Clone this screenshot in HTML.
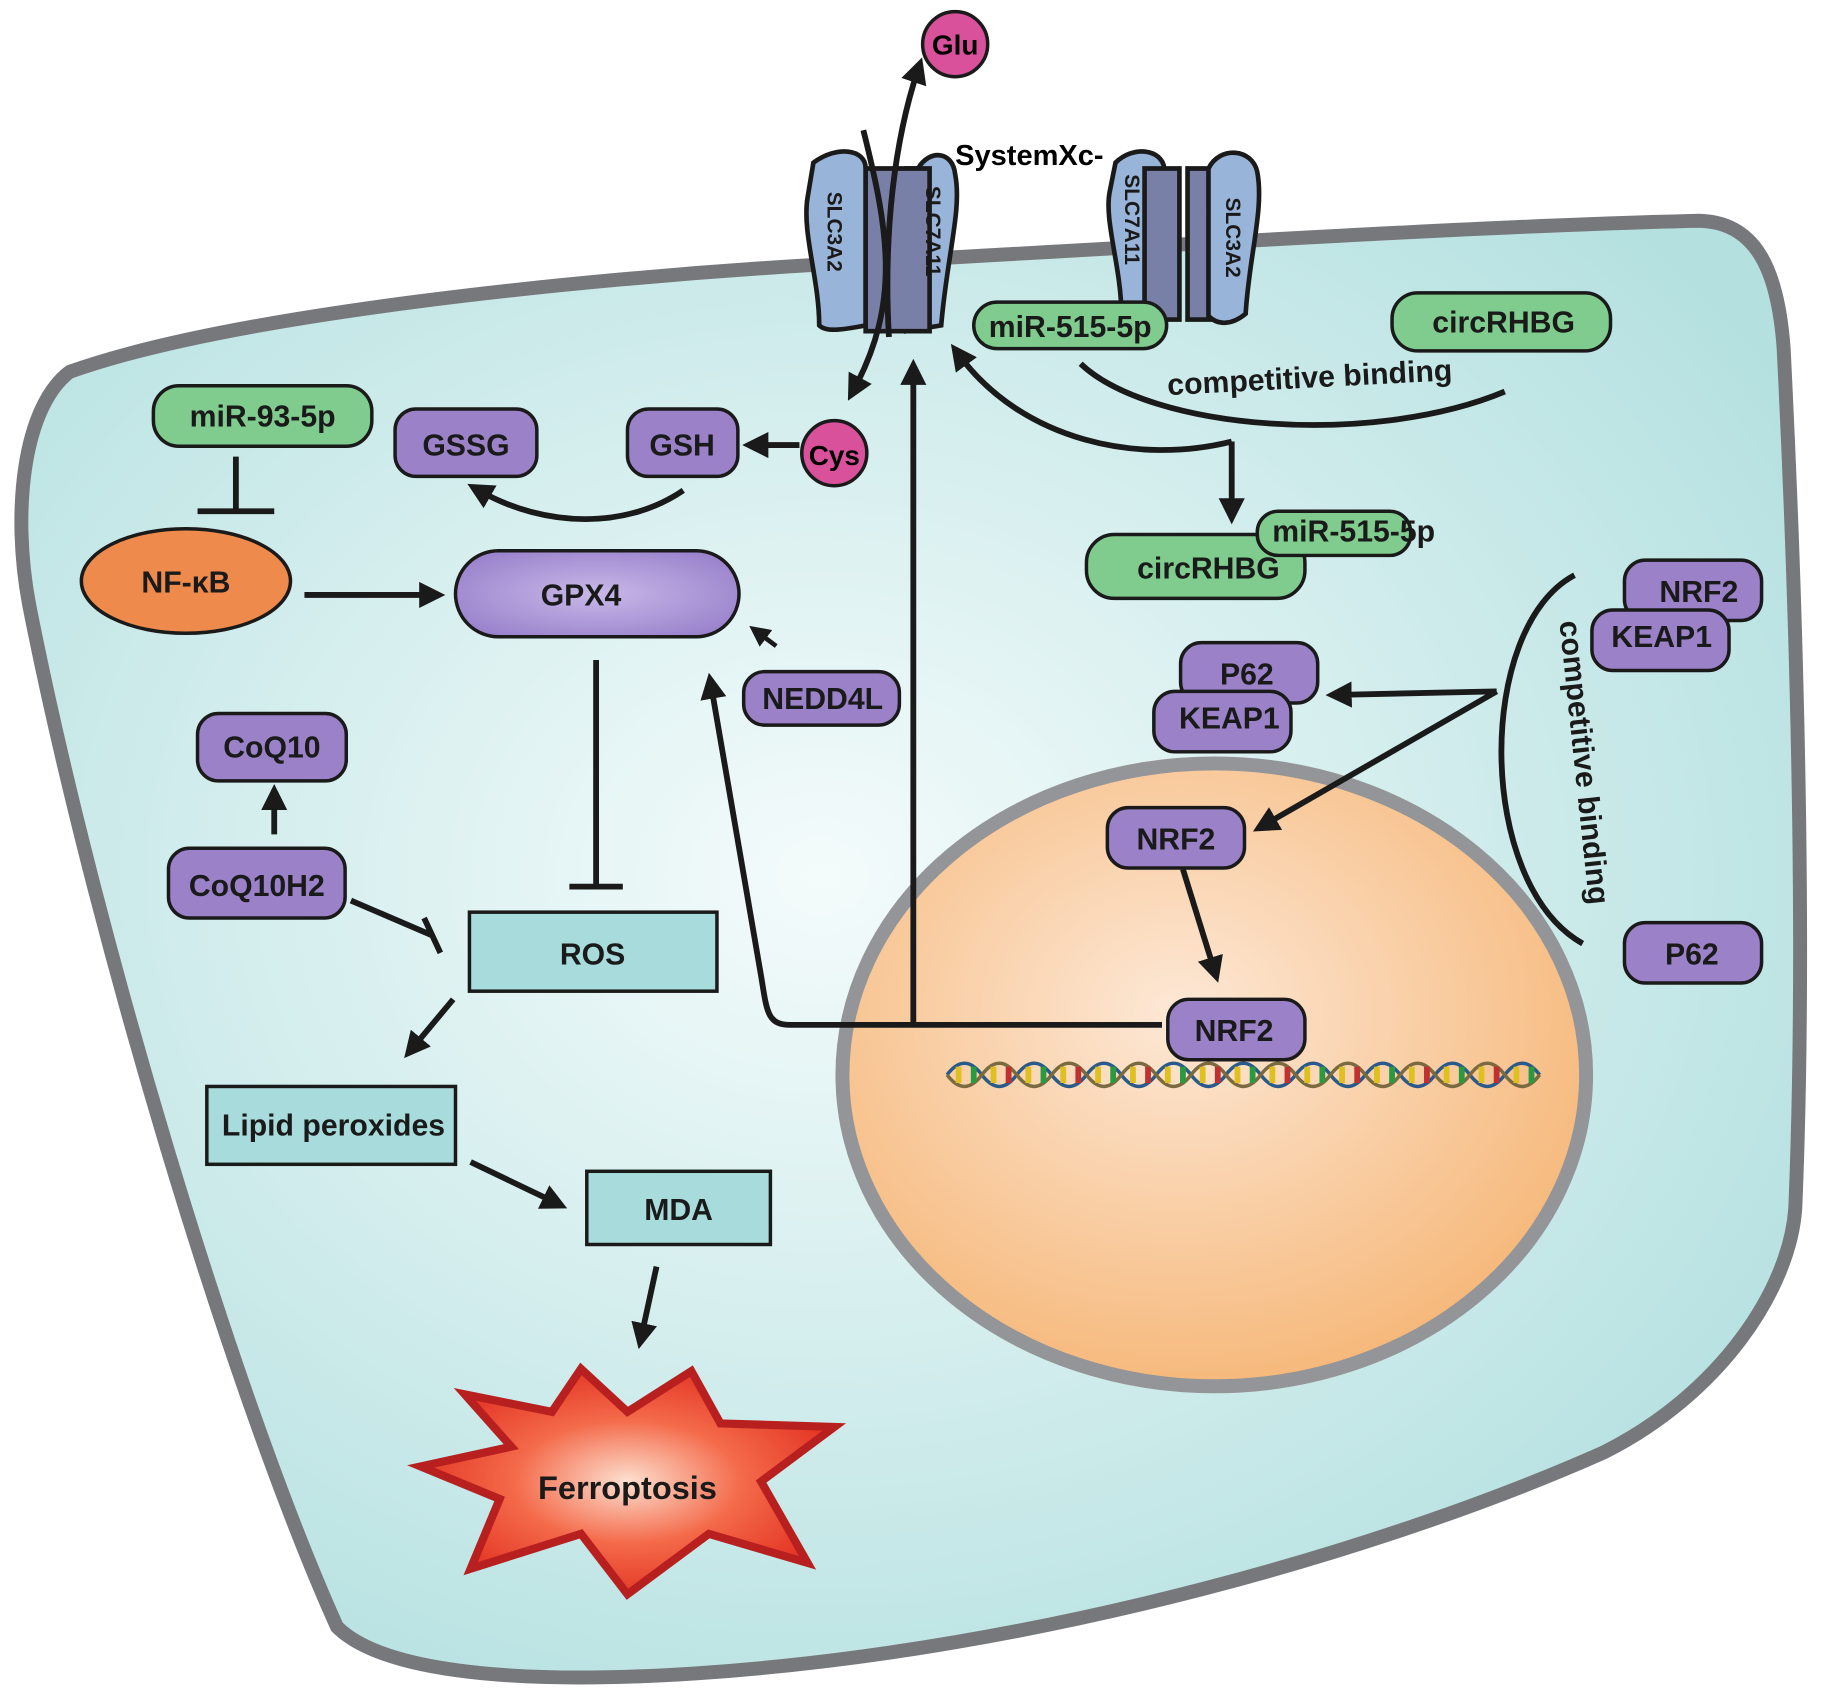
<!DOCTYPE html>
<html><head><meta charset="utf-8"><style>
html,body{margin:0;padding:0;background:#fff}
svg{display:block}
text{font-family:"Liberation Sans",sans-serif;font-weight:bold}
</style></head><body>
<svg width="1822" height="1700" viewBox="0 0 1568 1463" xmlns="http://www.w3.org/2000/svg">
<defs>
<radialGradient id="cell" cx="0.45" cy="0.45" r="0.65"><stop offset="0" stop-color="#f4fbfb"/><stop offset="1" stop-color="#b4e0e0"/></radialGradient>
<radialGradient id="nuc" cx="0.45" cy="0.4" r="0.6"><stop offset="0" stop-color="#fde8d6"/><stop offset="1" stop-color="#f6b97c"/></radialGradient>
<radialGradient id="gpx" cx="0.5" cy="0.5" r="0.6"><stop offset="0" stop-color="#c8b8e8"/><stop offset="1" stop-color="#9a82cc"/></radialGradient>
<radialGradient id="boom" cx="0.5" cy="0.5" r="0.55"><stop offset="0" stop-color="#fde0d0"/><stop offset="0.5" stop-color="#f46a4a"/><stop offset="1" stop-color="#e23020"/></radialGradient>
<marker id="ar" viewBox="0 0 10 10" refX="5" refY="5" markerWidth="4.5" markerHeight="4.5" orient="auto"><path d="M0,0 L10,5 L0,10 z" fill="#1a1a1a"/></marker>
</defs>
<path d="M60,320 C200,270 500,240 700,228 C950,215 1250,195 1460,190 C1510,190 1530,230 1535,300 C1545,500 1555,800 1545,1040 C1540,1110 1480,1200 1380,1250 C1200,1330 900,1420 600,1440 C450,1450 330,1440 290,1400 C200,1200 80,800 25,520 C10,440 20,350 60,320 Z" fill="url(#cell)" stroke="#77787b" stroke-width="12"/>
<ellipse cx="1045" cy="925" rx="320" ry="268" fill="url(#nuc)" stroke="#939598" stroke-width="12"/>
<g stroke-width="3" fill="none">
<path d="M815,925 Q830,905 845,925 T875,925 T905,925 T935,925 T965,925 T995,925 T1025,925 T1055,925 T1085,925 T1115,925 T1145,925 T1175,925 T1205,925 T1235,925 T1265,925 T1295,925 T1325,925" stroke="#2a5a8a"/>
<path d="M815,925 Q830,945 845,925 T875,925 T905,925 T935,925 T965,925 T995,925 T1025,925 T1055,925 T1085,925 T1115,925 T1145,925 T1175,925 T1205,925 T1235,925 T1265,925 T1295,925 T1325,925" stroke="#7a6a40"/>
<path d="M825,918v14M855,918v14M885,918v14M915,918v14M945,918v14M975,918v14M1005,918v14M1035,918v14M1065,918v14M1095,918v14M1125,918v14M1155,918v14M1185,918v14M1215,918v14M1245,918v14M1275,918v14M1305,918v14" stroke="#e0c020" stroke-width="5"/>
<path d="M838,918v14M898,918v14M958,918v14M1018,918v14M1078,918v14M1138,918v14M1198,918v14M1258,918v14M1318,918v14" stroke="#2a9a40" stroke-width="5"/>
<path d="M868,918v14M928,918v14M988,918v14M1048,918v14M1108,918v14M1168,918v14M1228,918v14M1288,918v14" stroke="#c03030" stroke-width="5"/>
</g>
<g stroke="#1a1a1a" stroke-width="4">
<path d="M700,140 C720,125 745,128 745,145 L745,280 C720,285 710,285 705,280 C705,240 690,200 695,170 Z" fill="#98b4d8"/>
<path d="M780,145 L790,145 C800,128 820,130 822,150 C828,180 815,220 810,280 L780,285 Z" fill="#98b4d8"/>
<path d="M745,145 L800,145 L800,285 L745,285 Z" fill="#7880a8"/>
</g>
<g stroke="#1a1a1a" stroke-width="4">
<path d="M960,140 C975,125 1000,128 1002,145 L1000,272 C985,280 970,280 965,270 C965,230 950,190 955,165 Z" fill="#98b4d8"/>
<path d="M985,145 L1015,145 L1015,275 L985,275 Z" fill="#7880a8"/>
<path d="M1022,145 L1052,145 L1052,275 L1022,275 Z" fill="#7880a8"/>
<path d="M1040,145 C1050,125 1078,128 1082,148 C1088,180 1075,220 1072,270 C1060,280 1048,280 1040,272 Z" fill="#98b4d8"/>
</g>
<g font-size="18" fill="#1a1a1a">
<text transform="translate(712,165) rotate(90)">SLC3A2</text>
<text transform="translate(797,160) rotate(90)">SLC7A11</text>
<text transform="translate(968,150) rotate(90)">SLC7A11</text>
<text transform="translate(1055,170) rotate(90)">SLC3A2</text>
</g>
<path d="M743,112 C765,200 775,260 735,335" fill="none" stroke="#1a1a1a" stroke-width="5" marker-end="url(#ar)"/>
<path d="M765,290 C760,200 770,120 790,60" fill="none" stroke="#1a1a1a" stroke-width="5" marker-end="url(#ar)"/>
<circle cx="822" cy="38" r="28" fill="#d9519b" stroke="#1a1a1a" stroke-width="3"/>
<text x="822" y="47" font-size="24" text-anchor="middle">Glu</text>
<text x="822" y="142" font-size="25">SystemXc-</text>
<circle cx="718" cy="390" r="28" fill="#d9519b" stroke="#1a1a1a" stroke-width="3"/>
<text x="718" y="400" font-size="24" text-anchor="middle">Cys</text>
<g fill="none" stroke="#1a1a1a" stroke-width="5">
<path d="M688,383 L650,383" marker-end="url(#ar)"/>
<path d="M588,422 C540,455 470,455 412,422" marker-end="url(#ar)"/>
<path d="M203,393 L203,440 M170,440 L236,440"/>
<path d="M262,512 L372,512" marker-end="url(#ar)"/>
<path d="M513,568 L513,763 M490,763 L536,763"/>
<path d="M236,718 L236,686" marker-end="url(#ar)"/>
<path d="M302,775 L372,805 M365,790 L379,820"/>
<path d="M390,860 L355,902" marker-end="url(#ar)"/>
<path d="M405,1000 L478,1035" marker-end="url(#ar)"/>
<path d="M565,1090 L552,1150" marker-end="url(#ar)"/>
<path d="M1000,882 L680,882 C660,882 660,870 655,840 L612,590" marker-end="url(#ar)"/>
<path d="M786,882 L786,320" marker-end="url(#ar)"/>
<path d="M1060,380 C980,400 880,380 825,305" marker-end="url(#ar)"/>
<path d="M930,313 C990,370 1180,385 1295,337"/>
<path d="M1060,380 L1060,440" marker-end="url(#ar)"/>
<path d="M1355,495 C1270,540 1270,760 1362,812"/>
<path d="M1288,595 L1152,598" marker-end="url(#ar)"/>
<path d="M1288,595 L1088,710" marker-end="url(#ar)"/>
<path d="M1018,748 L1045,835" marker-end="url(#ar)"/>
<path d="M668,556 L652,544" marker-end="url(#ar)" stroke-width="4"/>
</g>
<g font-size="26" fill="#1a1a1a">
<text x="1005" y="340" transform="rotate(-3 1005 340)">competitive binding</text>
<text transform="translate(1342,535) rotate(84)">competitive binding</text>
</g>
<g stroke="#1a1a1a" stroke-width="3" font-size="26">
<rect x="132" y="332" width="188" height="52" rx="22" fill="#7fcc8e"/>
<rect x="340" y="352" width="122" height="58" rx="18" fill="#9b82c8"/>
<rect x="540" y="352" width="95" height="58" rx="18" fill="#9b82c8"/>
<ellipse cx="160" cy="500" rx="90" ry="45" fill="#ee8b4c"/>
<rect x="392" y="474" width="244" height="74" rx="37" fill="url(#gpx)"/>
<rect x="640" y="578" width="134" height="46" rx="18" fill="#9b82c8"/>
<rect x="170" y="614" width="128" height="58" rx="18" fill="#9b82c8"/>
<rect x="145" y="730" width="152" height="60" rx="18" fill="#9b82c8"/>
<rect x="404" y="785" width="213" height="68" fill="#a8dcdc"/>
<rect x="178" y="935" width="214" height="67" fill="#a8dcdc"/>
<rect x="505" y="1008" width="158" height="63" fill="#a8dcdc"/>
<rect x="838" y="260" width="166" height="40" rx="20" fill="#7fcc8e"/>
<rect x="1198" y="252" width="188" height="50" rx="22" fill="#7fcc8e"/>
<rect x="935" y="460" width="188" height="55" rx="24" fill="#7fcc8e"/>
<rect x="1082" y="440" width="132" height="38" rx="18" fill="#7fcc8e"/>
<rect x="1398" y="482" width="118" height="52" rx="18" fill="#9b82c8"/>
<rect x="1370" y="525" width="118" height="52" rx="18" fill="#9b82c8"/>
<rect x="1016" y="553" width="118" height="52" rx="18" fill="#9b82c8"/>
<rect x="993" y="595" width="118" height="52" rx="18" fill="#9b82c8"/>
<rect x="953" y="695" width="118" height="52" rx="18" fill="#9b82c8"/>
<rect x="1005" y="860" width="118" height="52" rx="18" fill="#9b82c8"/>
<rect x="1398" y="794" width="118" height="52" rx="18" fill="#9b82c8"/>
</g>
<g font-size="26" fill="#1a1a1a" text-anchor="middle">
<text x="226" y="367">miR-93-5p</text>
<text x="401" y="392">GSSG</text>
<text x="587" y="392">GSH</text>
<text x="160" y="510">NF-κB</text>
<text x="500" y="521">GPX4</text>
<text x="708" y="610">NEDD4L</text>
<text x="234" y="652">CoQ10</text>
<text x="221" y="771">CoQ10H2</text>
<text x="510" y="830">ROS</text>
<text x="287" y="977">Lipid peroxides</text>
<text x="584" y="1050">MDA</text>
<text x="921" y="290">miR-515-5p</text>
<text x="1294" y="286">circRHBG</text>
<text x="1040" y="498">circRHBG</text>
<text x="1165" y="466">miR-515-5p</text>
<text x="1462" y="518">NRF2</text>
<text x="1430" y="557">KEAP1</text>
<text x="1073" y="589">P62</text>
<text x="1058" y="627">KEAP1</text>
<text x="1012" y="731">NRF2</text>
<text x="1062" y="896">NRF2</text>
<text x="1456" y="830">P62</text>
</g>
<path d="M400,1200 L475,1215 L500,1178 L540,1215 L595,1180 L620,1225 L718,1228 L655,1275 L695,1345 L610,1320 L540,1372 L500,1320 L405,1350 L430,1290 L362,1262 L440,1245 Z" fill="url(#boom)" stroke="#b82020" stroke-width="7" stroke-linejoin="miter"/>
<text x="540" y="1290" font-size="28" text-anchor="middle" fill="#1a1a1a">Ferroptosis</text>
</svg>
</body></html>
